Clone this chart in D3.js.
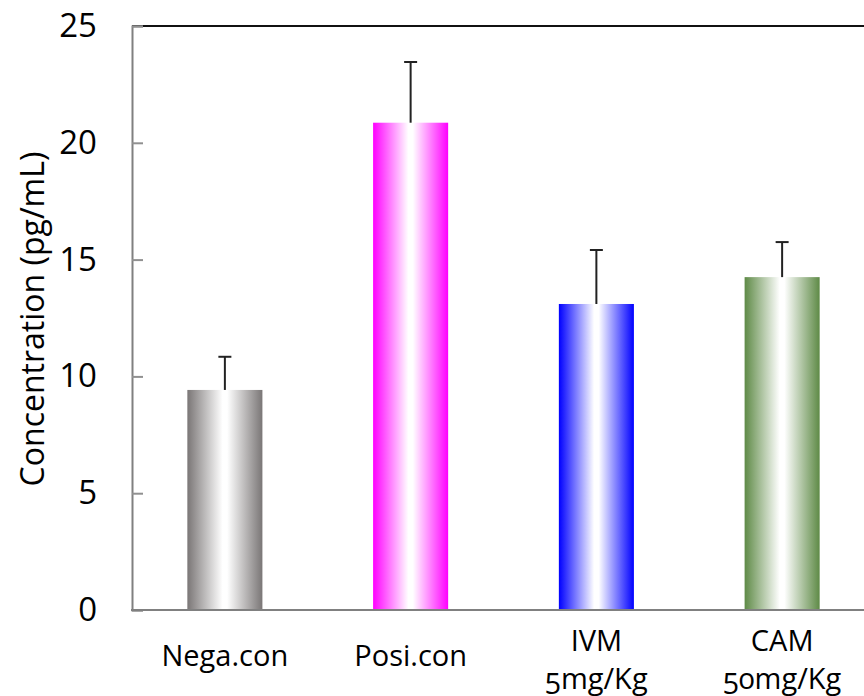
<!DOCTYPE html>
<html>
<head>
<meta charset="utf-8">
<script src="https://cdn.jsdelivr.net/npm/d3@7"></script>
<style>
html,body{margin:0;padding:0;background:#fff;overflow:hidden;}
text{font-family:"Open Sans","Noto Sans",sans-serif;fill:#000;}
.cat{font-variant-numeric:oldstyle-nums;font-feature-settings:"onum" 1;}
</style>
</head>
<body>
<svg id="chart" width="864" height="696"></svg>
<script>
const categories = ["Nega.con", "Posi.con", "IVM\n5mg/Kg", "CAM\n50mg/Kg"];
const means = [9.42, 20.86, 13.10, 14.25];
const errors = [1.42, 2.60, 2.31, 1.50];
const barColors = ["#7a7676", "#ff00ff", "#0000ff", "#5e8a46"];
const yTicks = [0, 5, 10, 15, 20, 25];
const yTitle = "Concentration (pg/mL)";

const svg = d3.select("#chart");
const mLeft = 132, mRight = 875, mTop = 26, mBottom = 610;

const x = d3.scaleBand().domain(categories).range([mLeft, mRight])
  .paddingInner(0.596).paddingOuter(0.298);
const y = d3.scaleLinear().domain([0, 25]).range([mBottom, mTop]);

// gradients
const defs = svg.append("defs");
categories.forEach((c, i) => {
  const g = defs.append("linearGradient").attr("id", "g" + i)
    .attr("x1", "0%").attr("x2", "100%").attr("y1", "0%").attr("y2", "0%");
  g.append("stop").attr("offset", "0%").attr("stop-color", barColors[i]);
  g.append("stop").attr("offset", "47%").attr("stop-color", "#ffffff");
  g.append("stop").attr("offset", "53%").attr("stop-color", "#ffffff");
  g.append("stop").attr("offset", "100%").attr("stop-color", barColors[i]);
});

// top frame line
svg.append("line").attr("x1", mLeft).attr("x2", mRight)
  .attr("y1", y(25)).attr("y2", y(25))
  .attr("stroke", "#111").attr("stroke-width", 2);

// bars
svg.append("g").selectAll("rect").data(categories).join("rect")
  .attr("x", d => x(d))
  .attr("width", x.bandwidth())
  .attr("y", (d, i) => y(means[i]))
  .attr("height", (d, i) => y(0) - y(means[i]))
  .attr("fill", (d, i) => `url(#g${i})`);

// error bars
const eg = svg.append("g").attr("stroke", "#222").attr("stroke-width", 2);
categories.forEach((c, i) => {
  const cx = x(c) + x.bandwidth() / 2;
  eg.append("line").attr("x1", cx).attr("x2", cx)
    .attr("y1", y(means[i])).attr("y2", y(means[i] + errors[i]));
  eg.append("line").attr("x1", cx - 6.5).attr("x2", cx + 6.5)
    .attr("y1", y(means[i] + errors[i])).attr("y2", y(means[i] + errors[i]));
});

// y axis
const yAxis = d3.axisLeft(y).tickValues(yTicks).tickSize(-11).tickPadding(35)
  .tickFormat(d3.format("d"));
const ya = svg.append("g").attr("transform", `translate(${mLeft},0)`).call(yAxis);
ya.select(".domain").attr("stroke", "#808080").attr("stroke-width", 2);
ya.selectAll(".tick line").attr("stroke", "#909090").attr("stroke-width", 2);
ya.selectAll(".tick text").style("font-size", "33px").attr("fill", "#000");

// x axis line
svg.append("line").attr("x1", mLeft - 1).attr("x2", mRight)
  .attr("y1", y(0)).attr("y2", y(0))
  .attr("stroke", "#808080").attr("stroke-width", 2);

// category labels
const lab = svg.append("g");
categories.forEach((c, i) => {
  const lines = c.split("\n");
  const cx = x(c) + x.bandwidth() / 2;
  const t = lab.append("text").attr("class", "cat").attr("text-anchor", "middle")
    .style("font-size", "29px");
  const base = lines.length === 1 ? 666 : 651;
  lines.forEach((ln, j) => {
    t.append("tspan").attr("x", cx).attr("y", base + j * 38).text(ln);
  });
});

// y title
svg.append("text")
  .attr("transform", `translate(44,${(mTop + mBottom) / 2 + 1}) rotate(-90)`)
  .attr("text-anchor", "middle")
  .style("font-size", "32px")
  .text(yTitle);
</script>
</body>
</html>
